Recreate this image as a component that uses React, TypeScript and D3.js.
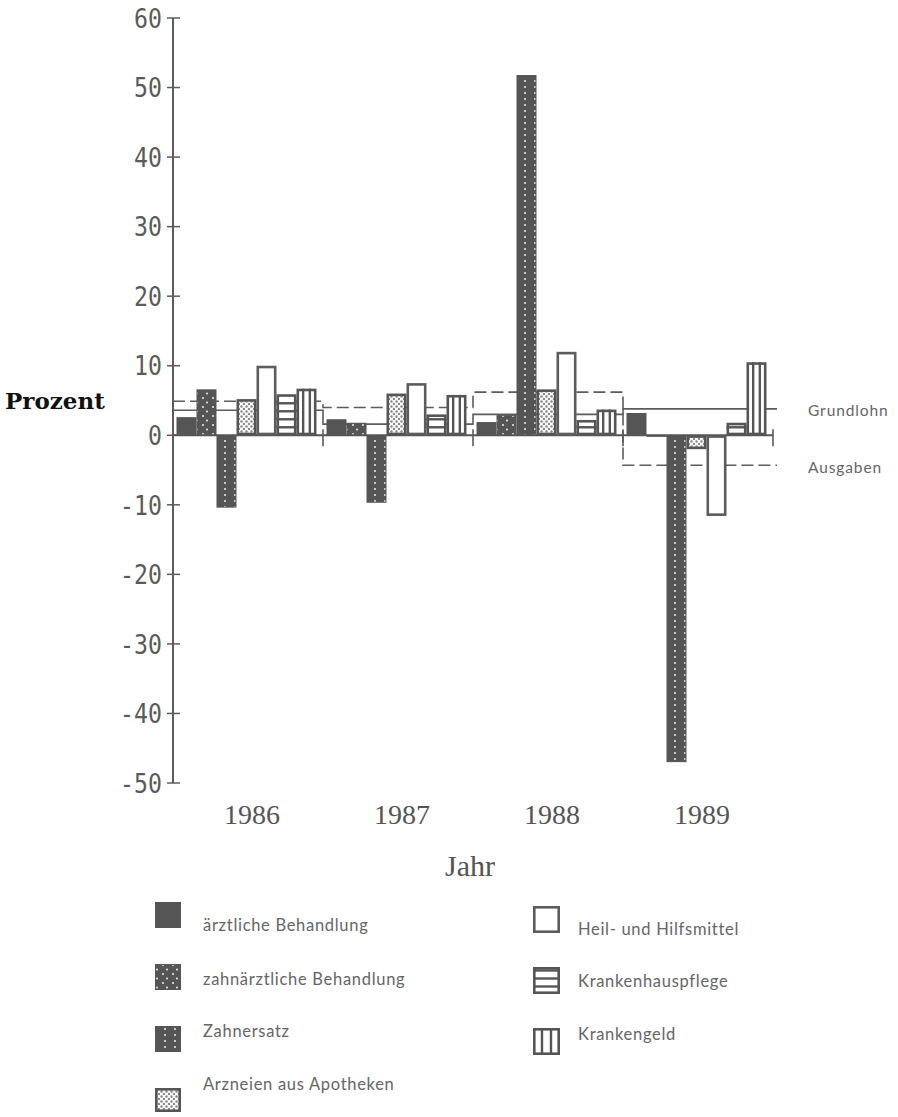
import React from 'react';
import * as d3 from 'd3';

const years = ['1986', '1987', '1988', '1989'];
const series = [
  'ärztliche Behandlung',
  'zahnärztliche Behandlung',
  'Zahnersatz',
  'Arzneien aus Apotheken',
  'Heil- und Hilfsmittel',
  'Krankenhauspflege',
  'Krankengeld',
];
const aerztlich = [2.6, 2.3, 1.9, 3.2];
const zahnaerztlich = [6.6, 1.8, 2.9, -0.2];
const zahnersatz = [-10.4, -9.7, 51.8, -47.0];
const arzneien = [5.2, 6.0, 6.6, -2.0];
const heil = [10.0, 7.5, 12.0, -11.6];
const krankenhaus = [5.9, 3.0, 2.2, 1.8];
const krankengeld = [6.7, 5.8, 3.7, 10.5];
const values = [aerztlich, zahnaerztlich, zahnersatz, arzneien, heil, krankenhaus, krankengeld];

const grundlohn = [3.6, 1.6, 3.0, 3.8];
const ausgaben = [4.9, 4.0, 6.2, -4.3];
const yTicks = [60, 50, 40, 30, 20, 10, 0, -10, -20, -30, -40, -50];

const W = 898;
const H = 1117;
const DARK = '#555';
const LINE = '#5c5c5c';

const y = d3.scaleLinear().domain([-50, 60]).range([783, 18]);
const x0 = d3.scaleBand<string>().domain(years).range([173, 773]);
const x1 = d3.scaleBand<number>().domain(d3.range(series.length)).range([3.5, 143.5]);
const refEnd = 777;

const sansFont = 'Lato, "Open Sans", sans-serif';

function Bar({ s, x, w, v }: { s: number; x: number; w: number; v: number }) {
  const top = y(Math.max(v, 0));
  const bot = y(Math.min(v, 0));
  const h = Math.max(bot - top, 0.5);
  return <Swatch s={s} x={x} yTop={top} w={w} h={h} base={y(0)} />;
}

function Swatch({ s, x, yTop, w, h, base }: { s: number; x: number; yTop: number; w: number; h: number; base: number }) {
  const sw = s >= 3 ? 2.6 : 1;
  const inset = sw / 2;
  const fills = [DARK, 'url(#pSparse)', 'url(#pCol)', 'url(#pLight)', '#fff', '#fff', '#fff'];
  const strokes = [DARK, DARK, DARK, DARK, LINE, DARK, DARK];
  const extra: React.ReactNode[] = [];
  if (s === 5) {
    const step = 8;
    const lines = d3.range(base - step, yTop + 1, -step).concat(d3.range(base + step, yTop + h - 1, step));
    lines.forEach((ly, i) => {
      if (ly > yTop + 2 && ly < yTop + h - 2)
        extra.push(<line key={i} x1={x} x2={x + w} y1={ly} y2={ly} stroke={DARK} strokeWidth={2.4} />);
    });
  }
  if (s === 6) {
    [1, 2].forEach((k) => {
      const lx = x + (w * k) / 3;
      extra.push(<line key={k} x1={lx} x2={lx} y1={yTop} y2={yTop + h} stroke={DARK} strokeWidth={2.4} />);
    });
  }
  return (
    <g>
      <rect
        x={x + inset}
        y={yTop + inset}
        width={Math.max(w - sw, 0.5)}
        height={Math.max(h - sw, 0.5)}
        fill={fills[s]}
        stroke={strokes[s]}
        strokeWidth={sw}
      />
      {extra}
    </g>
  );
}

const legendLeft = [
  { s: 0, sy: 902, ty: 925 },
  { s: 1, sy: 964, ty: 979 },
  { s: 2, sy: 1026, ty: 1031 },
  { s: 3, sy: 1088, ty: 1084 },
];
const legendRight = [
  { s: 4, sy: 906, ty: 929 },
  { s: 5, sy: 967, ty: 981 },
  { s: 6, sy: 1028, ty: 1034 },
];

export default function App() {
  const stepLine = d3
    .line<[number, number]>()
    .x((d) => d[0])
    .y((d) => y(d[1]))
    .curve(d3.curveStepAfter);
  const pts = (arr: number[]): [number, number][] => {
    const p: [number, number][] = years.map((yr, i) => [x0(yr)!, arr[i]]);
    p.push([refEnd, arr[arr.length - 1]]);
    return p;
  };

  return (
    <svg
      width={W}
      height={H}
      viewBox={`0 0 ${W} ${H}`}
      style={{ position: 'absolute', left: 0, top: 0, background: '#fff' }}
    >
      <defs>
        <pattern id="pSparse" patternUnits="userSpaceOnUse" width="10" height="9">
          <rect width="10" height="9" fill={DARK} />
          <circle cx="3" cy="2" r="1" fill="#eee" />
          <circle cx="7" cy="6.5" r="1" fill="#eee" />
        </pattern>
        <pattern id="pCol" patternUnits="userSpaceOnUse" width="10" height="6">
          <rect width="10" height="6" fill={DARK} />
          <circle cx="5" cy="3" r="1" fill="#eee" />
        </pattern>
        <pattern id="pLight" patternUnits="userSpaceOnUse" width="5" height="5">
          <rect width="5" height="5" fill="#fafafa" />
          <circle cx="1.5" cy="1.5" r="1.2" fill="#888" />
          <circle cx="4" cy="4" r="1.2" fill="#888" />
        </pattern>
      </defs>
      <rect width={W} height={H} fill="#fff" />

      {/* y axis */}
      <line x1={173} x2={173} y1={y(60)} y2={y(-50)} stroke={LINE} strokeWidth={2} />
      {yTicks.map((t) => (
        <g key={t}>
          <line x1={167} x2={180} y1={y(t)} y2={y(t)} stroke={LINE} strokeWidth={1.5} />
          <text
            transform={`translate(162,${y(t)}) scale(0.86,1)`}
            dy="0.36em"
            textAnchor="end"
            fontFamily='"DejaVu Sans Mono", monospace'
            fontSize={27}
            fill="#5a5a5a"
          >
            {t}
          </text>
        </g>
      ))}

      <text x={5} y={401} dy="0.36em" fontFamily='"DejaVu Serif", serif' fontWeight="bold" fontSize={23} fill="#111">
        Prozent
      </text>

      {/* reference lines */}
      <path d={stepLine(pts(grundlohn)) || ''} fill="none" stroke={LINE} strokeWidth={1.6} />
      <path
        d={stepLine(pts(ausgaben)) || ''}
        fill="none"
        stroke={LINE}
        strokeWidth={1.6}
        strokeDasharray="12 5"
      />

      {/* zero line */}
      <line x1={173} x2={773} y1={y(0)} y2={y(0)} stroke={DARK} strokeWidth={2} />

      {/* bars */}
      {years.map((yr, gi) =>
        values.map((arr, si) => (
          <Bar key={`${yr}-${si}`} s={si} x={x0(yr)! + x1(si)!} w={x1.bandwidth()} v={arr[gi]} />
        ))
      )}

      {/* group boundary ticks */}
      {years.map((yr) => {
        const bx = x0(yr)! + x0.bandwidth();
        return <line key={yr} x1={bx} x2={bx} y1={y(0) - 6} y2={y(0) + 11} stroke={LINE} strokeWidth={1.6} />;
      })}

      {/* year labels */}
      {years.map((yr) => (
        <text
          key={yr}
          x={x0(yr)! + x0.bandwidth() / 2 + 4}
          y={814}
          dy="0.36em"
          textAnchor="middle"
          fontFamily='"Liberation Serif", serif'
          fontSize={28}
          fill="#555"
        >
          {yr}
        </text>
      ))}
      <text x={470} y={865} dy="0.36em" textAnchor="middle" fontFamily='"Liberation Serif", serif' fontSize={30} fill="#555">
        Jahr
      </text>

      {/* line labels */}
      <text x={808} y={y(grundlohn[3]) + 2} dy="0.36em" fontFamily={sansFont} fontSize={15.5} letterSpacing={0.9} fill="#666">
        Grundlohn
      </text>
      <text x={808} y={y(ausgaben[3]) + 2} dy="0.36em" fontFamily={sansFont} fontSize={15.5} letterSpacing={0.9} fill="#666">
        Ausgaben
      </text>

      {/* legend */}
      {legendLeft.map((l) => (
        <g key={l.s}>
          <Swatch s={l.s} x={155} yTop={l.sy} w={26} h={l.s === 3 ? 24 : 26} base={l.sy + 26} />
          <text x={203} y={l.ty} dy="0.36em" fontFamily={sansFont} fontSize={16.5} letterSpacing={0.7} fill="#666">
            {series[l.s]}
          </text>
        </g>
      ))}
      {legendRight.map((l) => (
        <g key={l.s}>
          <Swatch s={l.s} x={533} yTop={l.sy} w={27} h={27} base={l.sy + 27 + 0.5} />
          <text x={578} y={l.ty} dy="0.36em" fontFamily={sansFont} fontSize={16.5} letterSpacing={0.7} fill="#666">
            {series[l.s]}
          </text>
        </g>
      ))}
    </svg>
  );
}
